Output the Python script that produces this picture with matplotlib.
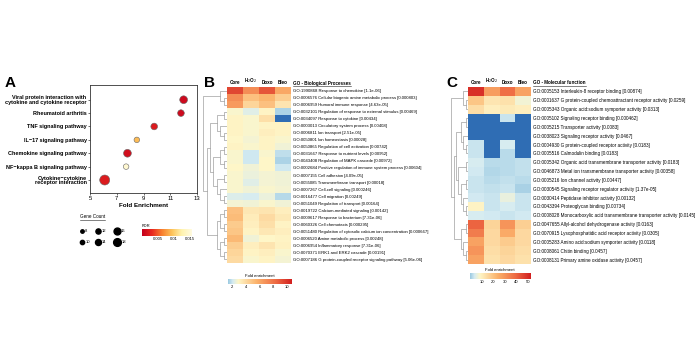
import numpy as np
import matplotlib.pyplot as plt
from matplotlib.colors import LinearSegmentedColormap, Normalize
from matplotlib.lines import Line2D

plt.rcParams['font.family'] = ['Liberation Sans', 'DejaVu Sans']

# ---- panel A : KEGG pathways ----
pathways = ["Viral protein interaction with\ncytokine and cytokine receptor",
            "Rheumatoid arthritis", "TNF signaling pathway", "IL\u221217 signaling pathway",
            "Chemokine signaling pathway", "NF\u2212kappa B signaling pathway",
            "Cytokine\u2212cytokine\nreceptor interaction"]
fold_enrich = [12.0, 11.8, 9.8, 8.5, 7.8, 7.7, 6.1]
gene_count = [14, 12, 12, 10, 14, 10, 18]
fdr = [0.0008, 0.0008, 0.002, 0.009, 0.0012, 0.0145, 0.002]
legend_counts = [8, 12, 16, 10, 14, 18]

# ---- panel B : GO biological processes ----
conditions = ["Core", "H$_2$O$_2$", "Doxo", "Bleo"]
bp_terms = ["GO:1990868 Response to chemokine [1.1e-06]",
            "GO:0006576 Cellular biogenic amine metabolic process [0.000803]",
            "GO:0006959 Humoral immune response [4.63e-05]",
            "GO:0032101 Regulation of response to external stimulus [0.00469]",
            "GO:0034097 Response to cytokine [0.00434]",
            "GO:0003013 Circulatory system process [0.00408]",
            "GO:0006811 Ion transport [2.51e-05]",
            "GO:0050801 Ion homeostasis [0.00028]",
            "GO:0050865 Regulation of cell activation [0.00742]",
            "GO:0031667 Response to nutrient levels [0.00952]",
            "GO:0043408 Regulation of MAPK cascade [0.00972]",
            "GO:0002684 Positive regulation of immune system process [0.00604]",
            "GO:0007155 Cell adhesion [4.09e-05]",
            "GO:0055085 Transmembrane transport [0.00018]",
            "GO:0007267 Cell-cell signaling [0.000246]",
            "GO:0016477 Cell migration [0.00249]",
            "GO:0051049 Regulation of transport [0.00164]",
            "GO:0019722 Calcium-mediated signaling [0.00142]",
            "GO:0009617 Response to bacterium [7.31e-06]",
            "GO:0060326 Cell chemotaxis [0.000295]",
            "GO:0051480 Regulation of cytosolic calcium ion concentration [0.000667]",
            "GO:0006520 Amine metabolic process [0.00248]",
            "GO:0006954 Inflammatory response [7.31e-06]",
            "GO:0070371 ERK1 and ERK2 cascade [0.00191]",
            "GO:0007186 G protein-coupled receptor signaling pathway [5.06e-06]"]
nan = np.nan
bp_core = [9.5, 7.0, 6.5, 2.8, 3.0, 3.0, 3.0, 2.9, 3.0, 2.8, 2.8, 2.9, 2.8, 2.8, 2.8, 2.2, 2.7,
           5.0, 5.2, 4.6, 4.8, 5.3, 4.5, 4.2, 4.0]
bp_h2o2 = [7.0, 5.0, 4.2, 2.3, 2.8, 2.8, 2.8, 2.7, 2.8, 2.0, 2.0, 2.6, 2.5, 2.3, 2.6, 2.1, 2.6,
           3.5, 3.3, 3.2, 3.0, 2.6, 3.2, 3.0, 2.8]
bp_doxo = [9.0, 5.5, 5.0, 3.0, 3.8, 3.0, 3.2, 3.0, 3.0, 2.8, 2.9, 2.9, 2.7, 2.7, 2.8, 2.5, 2.8,
           3.6, 4.0, 3.8, 3.5, 2.9, 3.6, 3.2, 3.0]
bp_bleo = [6.0, 4.5, 3.6, 1.6, nan, 3.0, 3.0, 2.8, 2.6, 1.8, 1.6, 2.0, 2.6, 2.6, 2.7, 1.7, 2.6,
           3.2, 3.4, 3.0, 3.2, 3.0, 3.1, 2.8, 2.7]
bp_tree = [[0, [1, 2]],
           [[[[3, 4], [5, [6, 7]]], [[[8, 9], [10, 11]], [[12, 13], [14, [15, 16]]]]],
            [[[17, 18], [19, 20]], [[21, 22], [23, 24]]]]]

# ---- panel C : GO molecular function ----
mf_terms = ["GO:0005153 Interleukin-8 receptor binding [0.00874]",
            "GO:0001637 G protein-coupled chemoattractant receptor activity [0.0259]",
            "GO:0005343 Organic acid:sodium symporter activity [0.0313]",
            "GO:0005102 Signaling receptor binding [0.000462]",
            "GO:0005215 Transporter activity [0.0083]",
            "GO:0038023 Signaling receptor activity [0.0467]",
            "GO:0004930 G protein-coupled receptor activity [0.0183]",
            "GO:0005516 Calmodulin binding [0.0183]",
            "GO:0005342 Organic acid transmembrane transporter activity [0.0183]",
            "GO:0046873 Metal ion transmembrane transporter activity [0.00358]",
            "GO:0005216 Ion channel activity [0.00447]",
            "GO:0030545 Signaling receptor regulator activity [1.37e-05]",
            "GO:0030414 Peptidase inhibitor activity [0.00132]",
            "GO:0043394 Proteoglycan binding [0.00734]",
            "GO:0008028 Monocarboxylic acid transmembrane transporter activity [0.0145]",
            "GO:0047655 Allyl-alcohol dehydrogenase activity [0.0163]",
            "GO:0070915 Lysophosphatidic acid receptor activity [0.0305]",
            "GO:0005283 Amino acid:sodium symporter activity [0.0118]",
            "GO:0008061 Chitin binding [0.0457]",
            "GO:0008131 Primary amine oxidase activity [0.0457]"]
mf_core = [49, 19, 14, nan, nan, nan, 3, 3, 4, 3.5, 3, 3, 3.5, 9, 4, 40, 35, 27, 30, 27]
mf_h2o2 = [28, 12, 10, nan, nan, nan, nan, nan, 2, 1.5, 2, 2.5, 3, 3, 3.5, 16, 15, 15, 14, 13]
mf_doxo = [38, 13, 11, 3, nan, nan, 4, 2, 2, 2, 2.5, 3, 6, 4, 3, 30, 25, 18, 16, 15]
mf_bleo = [27, 7, 10, nan, nan, nan, nan, nan, 2.5, 2.5, 2, 1, 3, 3, 3.5, 17, 15, 15, 14, 13]
mf_tree = [[0, [1, 2]],
           [[[[3, 4], [5, [6, 7]]], [[8, 9], [[10, 11], [12, [13, 14]]]]],
            [[15, 16], [17, [18, 19]]]]]

W, H = 700, 351
fig = plt.figure(figsize=(7, 3.51), dpi=100)


def box(x0, y0, x1, y1):
    return fig.add_axes([x0 / W, 1 - y1 / H, (x1 - x0) / W, (y1 - y0) / H])


def underline(txt):
    fig.canvas.draw()
    bb = txt.get_window_extent()
    y = bb.y0 - 0.6
    fig.add_artist(Line2D([bb.x0 / W, bb.x1 / W], [y / H, y / H], lw=0.4, color='#222222'))


fdr_cmap = LinearSegmentedColormap.from_list(
    'fdr', ['#c4001d', '#e8291f', '#f8802f', '#fdc35a', '#fff3b0', '#fffbe0'])
fdr_norm = Normalize(0, 0.0155)
fe_cmap = LinearSegmentedColormap.from_list(
    'fe', [(0, '#9ccae1'), (0.07, '#d5ebf2'), (0.16, '#fef6c8'), (0.45, '#fbb26b'),
           (0.75, '#ee6a43'), (1, '#d21f1f')])
fe_cmap.set_bad('#2f6db4')

# ---------------- panel A ----------------
fig.text(5 / W, 1 - 83 / H, "A", fontsize=11, fontweight='bold', va='center')
axA = box(90, 85, 197, 193)
ypos = np.arange(len(pathways))[::-1]
axA.scatter(fold_enrich, ypos, s=(np.array(gene_count) * 0.4) ** 2, c=fdr, cmap=fdr_cmap,
            norm=fdr_norm, edgecolors='#666666', linewidths=0.4, zorder=3)
axA.set_xlim(5, 13)
axA.set_ylim(-0.97, 7.1)
axA.set_xticks([5, 7, 9, 11, 13])
axA.set_yticks(ypos)
axA.set_yticklabels(pathways, fontsize=4, fontweight='bold', linespacing=0.95)
axA.tick_params(axis='x', labelsize=4.2, length=1.5, width=0.4, pad=1)
axA.tick_params(axis='y', length=1.5, width=0.4, pad=1)
for s in axA.spines.values():
    s.set_linewidth(0.6)
    s.set_color('#333333')
axA.set_xlabel("Fold Enrichment", fontsize=4.5, fontweight='bold', labelpad=1)

# gene count legend
axL = box(75, 210, 135, 250)
axL.set_xlim(75, 135)
axL.set_ylim(250, 210)
axL.axis('off')
gx = [82, 98, 117]
gy = [231, 242]
for i, cnt in enumerate(legend_counts):
    x = gx[i % 3]
    y = gy[i // 3]
    axL.scatter(x, y, s=(cnt * 0.31) ** 2, color='black', clip_on=False)
    axL.text(x + 2.5 + cnt * 0.1, y, str(cnt), fontsize=3, va='center')
t = fig.text(80 / W, 1 - 217 / H, "Gene Count", fontsize=3.3, va='center')
underline(t)

# FDR colour bar
axF = box(142, 229, 192, 236)
grad = np.linspace(0, 0.0155, 200).reshape(1, -1)
axF.imshow(grad, aspect='auto', cmap=fdr_cmap, norm=fdr_norm, extent=[0, 0.0155, 0, 1])
axF.set_yticks([])
axF.set_xticks([0.005, 0.01, 0.015])
axF.set_xticklabels(["0.005", "0.01", "0.015"])
axF.tick_params(axis='x', labelsize=3, length=0, pad=1)
for s in axF.spines.values():
    s.set_visible(False)
fig.text(142 / W, 1 - 226 / H, "FDR", fontsize=3, va='center')


# ---------------- heatmaps ----------------
def dendro(ax, node):
    # returns (y centre, height)
    if isinstance(node, int):
        return node + 0.5, 0
    yl, hl = dendro(ax, node[0])
    yr, hr = dendro(ax, node[1])
    h = max(hl, hr) + 1
    ax.plot([hl, h, h, hr], [yl, yl, yr, yr], color='#a0a0a0', lw=0.5)
    return (yl + yr) / 2, h


def heatmap(letter, lx, x0, x1, y0, y1, dx0, title, terms, cols, tree, vmax, vmin,
            cb_box, cb_range, cb_ticks, fsize):
    fig.text(lx / W, 1 - 83 / H, letter, fontsize=11, fontweight='bold', va='center')
    data = np.array(cols).T
    norm = Normalize(vmin, vmax)
    ax = box(x0, y0, x1, y1)
    ax.pcolormesh(np.ma.masked_invalid(data), cmap=fe_cmap, norm=norm)
    ax.set_xlim(0, 4)
    ax.set_ylim(len(terms), 0)
    ax.set_xticks(np.arange(4) + 0.5)
    ax.set_xticklabels(conditions, fontsize=3.3, fontweight='bold')
    ax.xaxis.tick_top()
    ax.yaxis.tick_right()
    ax.set_yticks(np.arange(len(terms)) + 0.5)
    ax.set_yticklabels(terms, fontsize=fsize)
    ax.tick_params(length=0, pad=1.5)
    for s in ax.spines.values():
        s.set_visible(False)
    t = fig.text((x1 + 2) / W, 1 - (y0 - 4) / H, title, fontsize=3.3, fontweight='bold',
                 va='center')
    underline(t)

    axd = box(dx0, y0, x0, y1)
    _, hroot = dendro(axd, tree)
    axd.set_ylim(len(terms), 0)
    axd.set_xlim(hroot + 0.1, 0)
    axd.axis('off')

    cx0, cy0, cx1, cy1 = cb_box
    axc = box(cx0, cy0, cx1, cy1)
    g = np.linspace(cb_range[0], cb_range[1], 200).reshape(1, -1)
    axc.imshow(g, aspect='auto', cmap=fe_cmap, norm=norm,
               extent=[cb_range[0], cb_range[1], 0, 1])
    axc.set_yticks([])
    axc.set_xticks(cb_ticks)
    axc.tick_params(axis='x', labelsize=3, length=0, pad=1)
    for s in axc.spines.values():
        s.set_visible(False)
    fig.text((cx0 + cx1) / 2 / W, 1 - (cy0 - 3) / H, "Fold enrichment", fontsize=3.1,
             ha='center', va='center')


heatmap("B", 204, 227, 291, 87, 263, 203, "GO - Biological Processes", bp_terms,
        [bp_core, bp_h2o2, bp_doxo, bp_bleo], bp_tree, 10.7, 1.4,
        (228, 279, 292, 284), (1.4, 10.7), [2, 4, 6, 8, 10], 3.1)
heatmap("C", 446, 468, 531, 87, 264, 451, "GO - Molecular function", mf_terms,
        [mf_core, mf_h2o2, mf_doxo, mf_bleo], mf_tree, 52, 0,
        (470, 273, 530, 279), (0, 52), [10, 20, 30, 40, 50], 3.35)

fig.savefig("out.png", dpi=100)
